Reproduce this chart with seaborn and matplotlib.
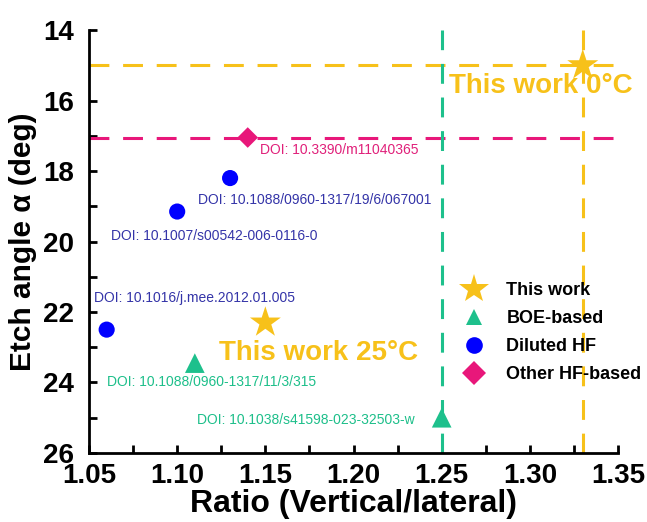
import pandas as pd
import seaborn as sns
import matplotlib.pyplot as plt
from matplotlib.lines import Line2D
from matplotlib.ticker import MultipleLocator

# values
groups = ['This work', 'This work', 'BOE-based', 'BOE-based',
          'Diluted HF', 'Diluted HF', 'Diluted HF', 'Other HF-based']
ratio = [1.33, 1.15, 1.11, 1.25, 1.06, 1.10, 1.13, 1.14]
angle = [15.0, 22.3, 23.45, 25.0, 22.5, 19.15, 18.2, 17.05]

doi_labels = ['DOI: 10.3390/m11040365',
              'DOI: 10.1088/0960-1317/19/6/067001',
              'DOI: 10.1007/s00542-006-0116-0',
              'DOI: 10.1016/j.mee.2012.01.005',
              'DOI: 10.1088/0960-1317/11/3/315',
              'DOI: 10.1038/s41598-023-32503-w']
doi_groups = ['Other HF-based', 'Diluted HF', 'Diluted HF', 'Diluted HF',
              'BOE-based', 'BOE-based']
doi_x = [1.1468, 1.1116, 1.0623, 1.0527, 1.0602, 1.111]
doi_y = [17.4, 18.82, 19.84, 21.61, 24.0, 25.06]

colors = {'This work': '#F7C11A', 'BOE-based': '#1EC08C',
          'Diluted HF': '#0000FF', 'Other HF-based': '#E8177A'}
text_colors = {'BOE-based': '#1DBF8A', 'Diluted HF': '#3434A8',
               'Other HF-based': '#E0207A'}
markers = {'This work': '*', 'BOE-based': '^', 'Diluted HF': 'o',
           'Other HF-based': 'D'}
order = ['This work', 'BOE-based', 'Diluted HF', 'Other HF-based']

df = pd.DataFrame({'Ratio': ratio, 'Angle': angle, 'Group': groups})

sns.set_style('ticks')
plt.rcParams['font.family'] = ['Liberation Sans', 'DejaVu Sans']
plt.rcParams['text.color'] = 'black'
plt.rcParams['axes.labelcolor'] = 'black'
plt.rcParams['xtick.color'] = 'black'
plt.rcParams['ytick.color'] = 'black'

fig = plt.figure(figsize=(6.47, 5.22), dpi=100)
ax = fig.add_axes([0.1376, 0.1322, 0.8176, 0.8103])

# dashed reference lines through this work and the other HF point
dash = (0, (6.5, 4.5))
ax.axhline(15.0, color=colors['This work'], lw=2.2, linestyle=dash, zorder=1)
ax.axhline(17.05, color=colors['Other HF-based'], lw=2.2, linestyle=dash, zorder=1)
ax.axvline(1.25, color=colors['BOE-based'], lw=2.2, linestyle=dash, zorder=1)
ax.axvline(1.33, color=colors['This work'], lw=2.2, linestyle=dash, zorder=1)

sizes = {'This work': 550, 'BOE-based': 200, 'Diluted HF': 135, 'Other HF-based': 110}
for g in order:
    sub = df[df['Group'] == g]
    sns.scatterplot(data=sub, x='Ratio', y='Angle', ax=ax, color=colors[g],
                    marker=markers[g], s=sizes[g], edgecolor='none',
                    zorder=3, legend=False)

for lab, g, x, y in zip(doi_labels, doi_groups, doi_x, doi_y):
    ax.text(x, y, lab, color=text_colors[g], fontsize=10, va='center', ha='left')

ax.text(1.254, 15.6, 'This work 0°C', color=colors['This work'], fontsize=20,
        fontweight='bold', va='center', ha='left')
ax.text(1.1237, 23.17, 'This work 25°C', color=colors['This work'], fontsize=20,
        fontweight='bold', va='center', ha='left')

ax.set_xlim(1.05, 1.35)
ax.set_ylim(26, 14)
ax.xaxis.set_major_locator(MultipleLocator(0.05))
ax.xaxis.set_minor_locator(MultipleLocator(0.025))
ax.yaxis.set_major_locator(MultipleLocator(2))
ax.yaxis.set_minor_locator(MultipleLocator(1))
ax.tick_params(which='both', direction='in', width=2, length=6, color='black',
               labelcolor='black')
ax.tick_params(axis='y', labelsize=20, pad=11)
ax.tick_params(axis='x', labelsize=20, pad=7)
for t in ax.get_xticklabels() + ax.get_yticklabels():
    t.set_fontweight('bold')
sns.despine(ax=ax)
for sp in ['left', 'bottom']:
    ax.spines[sp].set_linewidth(2)
    ax.spines[sp].set_color('black')

ax.set_xlabel('Ratio (Vertical/lateral)', fontsize=23, fontweight='bold',
              labelpad=0, color='black')
ax.set_ylabel('Etch angle α (deg)', fontsize=21.5, fontweight='bold',
              labelpad=4, color='black')

handles = [Line2D([], [], linestyle='none', marker=markers[g], color=colors[g],
                  markersize=22 if g == 'This work' else 12, markeredgewidth=0)
           for g in order]
leg = ax.legend(handles, order, loc='upper left', bbox_to_anchor=(0.6695, 0.443),
                frameon=False, prop={'weight': 'bold', 'size': 13}, labelspacing=0.62,
                handletextpad=1.0, handlelength=1.6)
for t in leg.get_texts():
    t.set_color('black')

fig.savefig('out.png', dpi=100)
